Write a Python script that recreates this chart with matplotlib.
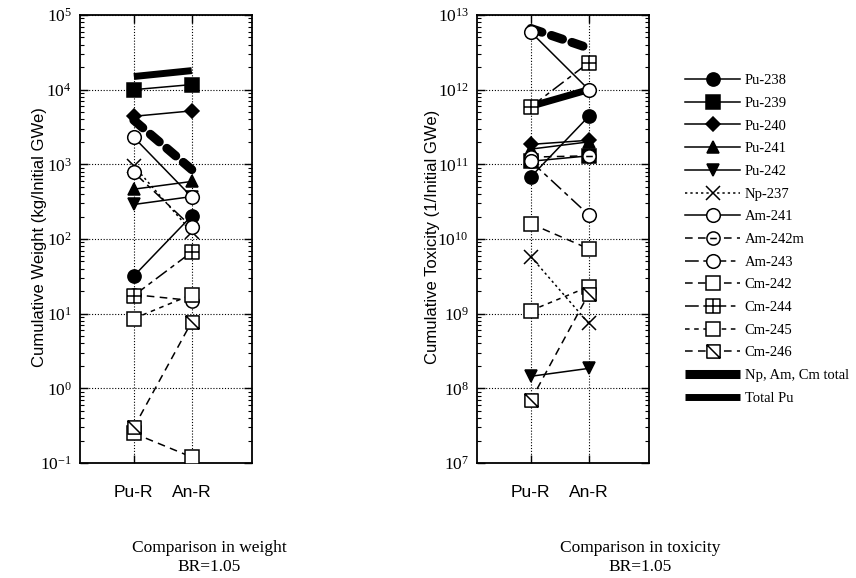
import matplotlib
matplotlib.use('Agg')
import matplotlib.pyplot as plt
from matplotlib.lines import Line2D
from matplotlib.path import Path
from matplotlib.ticker import LogLocator, NullFormatter

plt.rcParams['font.family'] = ['Liberation Serif', 'DejaVu Serif']
plt.rcParams['mathtext.fontset'] = 'custom'
plt.rcParams['mathtext.rm'] = 'Liberation Serif'

cases = ['Pu-R', 'An-R']
nuclides = ['Pu-238', 'Pu-239', 'Pu-240', 'Pu-241', 'Pu-242', 'Np-237',
            'Am-241', 'Am-242m', 'Am-243', 'Cm-242', 'Cm-244', 'Cm-245',
            'Cm-246', 'Np, Am, Cm total', 'Total Pu']

# cumulative weight, kg per initial GWe
weight_pu_r = [32, 1.0e4, 4.4e3, 465, 290, 950, 2.3e3, 18, 780,
               0.25, 17.5, 8.6, 0.30, 3.9e3, 1.5e4]
weight_an_r = [205, 1.17e4, 5.2e3, 590, 370, 125, 365, 15, 145,
               0.12, 67, 18, 7.8, 850, 1.8e4]

# cumulative toxicity, per initial GWe
tox_pu_r = [6.8e10, 1.1e11, 1.85e11, 1.6e11, 1.45e8, 5.8e9, 5.9e12, 1.25e11,
            1.1e11, 1.6e10, 5.9e11, 1.1e9, 6.9e7, 6.6e12, 6.0e11]
tox_an_r = [4.4e11, 1.3e11, 2.1e11, 2.0e11, 1.85e8, 7.4e8, 1.0e12, 1.3e11,
            2.1e10, 7.4e9, 2.3e12, 2.3e9, 1.85e9, 3.6e12, 1.0e12]

# marker shapes that matplotlib doesn't ship
sq = [[-1, -1], [1, -1], [1, 1], [-1, 1], [-1, -1]]
square = Path(sq, closed=True)
circle_bar = Path.make_compound_path(Path.unit_circle(),
                                     Path([[-0.5, 0], [0.5, 0]]))
square_cross = Path.make_compound_path(square, Path([[0, -1], [0, 1]]),
                                       Path([[-1, 0], [1, 0]]))
square_diag = Path.make_compound_path(square, Path([[-1, 1], [1, -1]]))

solid = '-'
dotted = (0, (1.5, 2.0))
dashed = (0, (5, 3.5))
short_dash = (0, (3, 3))
long_short = (0, (9, 3, 3, 3))

# (linestyle, marker, facecolor, markersize)
styles = [
    (solid, 'o', 'k', 9.5),
    (solid, 's', 'k', 9.5),
    (solid, 'D', 'k', 6.8),
    (solid, '^', 'k', 9),
    (solid, 'v', 'k', 9),
    (dotted, 'x', 'k', 9.5),
    (solid, 'o', 'w', 9.8),
    (dashed, circle_bar, 'w', 9.5),
    (long_short, 'o', 'w', 9.8),
    (dashed, 's', 'w', 9.5),
    (long_short, square_cross, 'w', 9.5),
    (short_dash, 's', 'w', 9.5),
    (dashed, square_diag, 'w', 9.5),
]

fig = plt.figure(figsize=(8.56, 5.78), dpi=100)
ax_w = fig.add_axes([80 / 856, 1 - 463 / 578, 172 / 856, 448 / 578])
ax_t = fig.add_axes([477 / 856, 1 - 463 / 578, 172 / 856, 448 / 578])


def draw(ax, pu_r, an_r, ylim):
    x = [0, 1]
    # totals as heavy lines under the markers
    ax.plot(x, [pu_r[13], an_r[13]], color='k', lw=6.5, zorder=2,
            dashes=(1.3, 1.1), dash_capstyle='round')
    ax.plot(x, [pu_r[14], an_r[14]], color='k', lw=5, zorder=2,
            solid_capstyle='butt')
    for i, (ls, mk, fc, ms) in enumerate(styles):
        ax.plot(x, [pu_r[i], an_r[i]], color='k', ls=ls, lw=1.1,
                marker=mk, mfc=fc, mec='k', ms=ms, mew=1.1, zorder=3 + i)
    ax.set_yscale('log')
    ax.set_ylim(*ylim)
    ax.set_xlim(-0.93, 2.04)
    ax.set_xticks(x)
    ax.set_xticklabels(cases, fontfamily='Liberation Sans', fontsize=12.5)
    ax.yaxis.set_major_locator(LogLocator(base=10, numticks=20))
    ax.yaxis.set_minor_locator(LogLocator(base=10, subs=range(2, 10),
                                          numticks=40))
    ax.yaxis.set_minor_formatter(NullFormatter())
    ax.tick_params(axis='y', which='major', direction='in', length=6,
                   width=1, left=True, right=True, labelsize=12.5, pad=6)
    ax.tick_params(axis='y', which='minor', direction='in', length=3,
                   width=0.8, left=True, right=True)
    ax.tick_params(axis='x', direction='in', length=6, width=1, top=True,
                   bottom=True, pad=16)
    ax.grid(True, which='major', color='k', ls=(0, (1, 1.6)), lw=0.8)
    for s in ax.spines.values():
        s.set_linewidth(1.3)


draw(ax_w, weight_pu_r, weight_an_r, (1e-1, 1e5))
draw(ax_t, tox_pu_r, tox_an_r, (1e7, 1e13))

fig.text(40 / 856, 1 - 237 / 578, 'Cumulative Weight (kg/Initial GWe)',
         rotation=90, ha='center', va='center', fontfamily='Liberation Sans',
         fontsize=12)
fig.text(433 / 856, 1 - 237 / 578, 'Cumulative Toxicity (1/Initial GWe)',
         rotation=90, ha='center', va='center', fontfamily='Liberation Sans',
         fontsize=12)

fig.text(209 / 856, 1 - 548 / 578, 'Comparison in weight', ha='center',
         va='center', fontsize=12.5)
fig.text(209 / 856, 1 - 567 / 578, 'BR=1.05', ha='center', va='center',
         fontsize=12.5)
fig.text(640 / 856, 1 - 548 / 578, 'Comparison in toxicity', ha='center',
         va='center', fontsize=12.5)
fig.text(640 / 856, 1 - 567 / 578, 'BR=1.05', ha='center', va='center',
         fontsize=12.5)

handles = []
for ls, mk, fc, ms in styles:
    handles.append(Line2D([], [], color='k', ls=ls, lw=1.1, marker=mk,
                          mfc=fc, mec='k', ms=ms, mew=1.1))
handles.append(Line2D([], [], color='k', lw=6.5, solid_capstyle='butt'))
handles.append(Line2D([], [], color='k', lw=5, solid_capstyle='butt'))

fig.legend(handles, nuclides, loc='upper left',
           bbox_to_anchor=(685 / 856, 1 - 74 / 578), frameon=False,
           handlelength=3.8, handletextpad=0.3, labelspacing=0.65,
           borderpad=0, borderaxespad=0, numpoints=1,
           prop={'family': 'Liberation Serif', 'size': 10.5})

fig.savefig('out.png', dpi=100)
